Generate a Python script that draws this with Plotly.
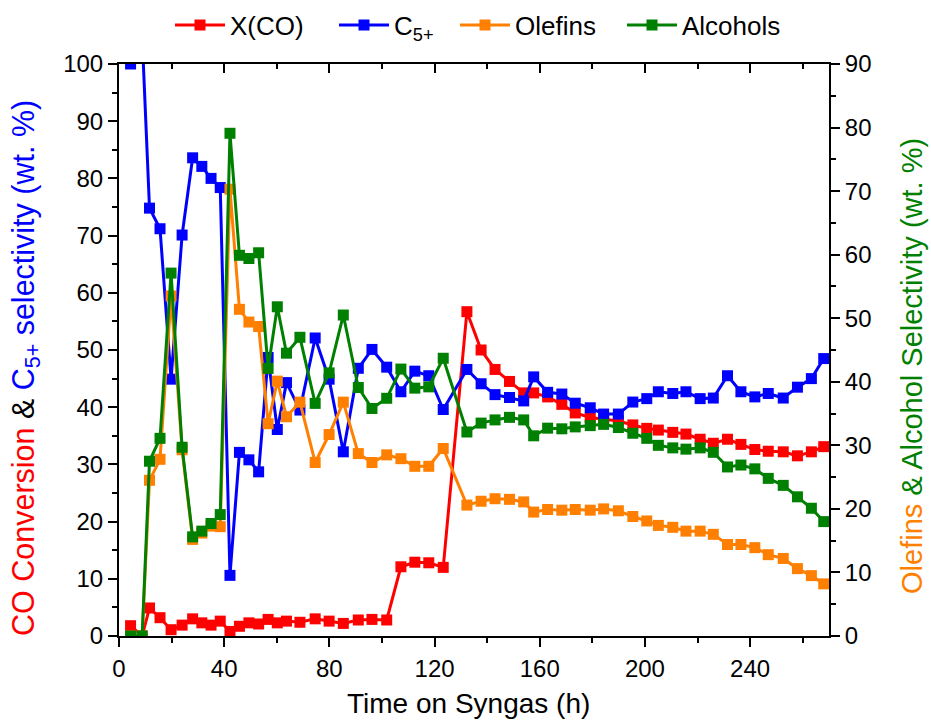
import plotly.graph_objects as go

# ---- data ----
time_h = [4.4, 8.8, 11.6, 15.6, 19.8, 24.0, 28.0, 31.5, 35.0, 38.5, 42.2, 45.8, 49.4, 53.1, 56.7,
          60.2, 63.7, 68.8, 74.6, 79.9, 85.3, 91.0, 96.2, 101.8, 107.2, 112.5, 117.8, 123.3,
          132.3, 137.7, 143.0, 148.5, 153.9, 157.7, 163.0, 168.4, 173.5, 179.2, 184.3, 189.9,
          195.4, 200.7, 205.1, 210.6, 215.6, 221.0, 226.0, 231.4, 236.5, 241.8, 246.9, 252.6,
          258.0, 263.3, 268.0]

x_co = [1.8, 0.0, 4.9, 3.2, 1.1, 1.9, 3.0, 2.3, 1.9, 2.6, 0.8, 1.7, 2.3, 2.1, 2.9,
        2.3, 2.6, 2.4, 3.0, 2.6, 2.2, 2.8, 2.9, 2.8, 12.1, 12.9, 12.8, 12.0,
        56.7, 50.0, 46.6, 44.5, 42.5, 42.5, 41.8, 40.5, 39.0, 38.2, 37.9, 37.6,
        36.9, 36.3, 36.0, 35.6, 35.3, 34.4, 33.7, 34.4, 33.5, 32.6, 32.3, 32.2,
        31.5, 32.2, 33.1]

c5_plus = [100.0, 105.0, 74.8, 71.2, 44.9, 70.1, 83.6, 82.1, 80.0, 78.4, 10.6, 32.1, 30.8, 28.7, 48.7,
           36.1, 44.3, 39.5, 52.1, 44.9, 32.2, 46.8, 50.1, 47.0, 42.7, 46.3, 45.5, 39.6,
           46.6, 44.1, 42.2, 41.7, 41.1, 45.3, 42.6, 42.3, 40.7, 39.9, 38.8, 38.8,
           40.9, 41.5, 42.7, 42.4, 42.7, 41.5, 41.6, 45.5, 42.7, 41.8, 42.4, 41.6,
           43.5, 45.0, 48.5]

olefins = [0.0, 0.0, 24.5, 27.8, 53.5, 29.3, 15.2, 16.2, 17.3, 17.2, 70.3, 51.4, 49.4, 48.7, 33.4,
           40.1, 34.5, 36.8, 27.3, 31.7, 36.8, 28.7, 27.3, 28.5, 27.9, 26.7, 26.7, 29.5,
           20.6, 21.2, 21.6, 21.5, 21.1, 19.5, 19.9, 19.8, 19.9, 19.8, 20.0, 19.7,
           18.8, 18.1, 17.4, 17.1, 16.5, 16.5, 16.0, 14.4, 14.4, 13.9, 12.8, 12.2,
           10.6, 9.5, 8.2]

alcohols = [0.0, 0.0, 27.5, 31.1, 57.1, 29.7, 15.6, 16.5, 17.7, 19.1, 79.1, 59.9, 59.4, 60.3, 42.1,
            51.8, 44.5, 47.0, 36.6, 41.4, 50.5, 39.1, 35.8, 37.4, 42.0, 39.0, 39.2, 43.7,
            32.1, 33.5, 34.0, 34.4, 34.0, 31.5, 32.7, 32.6, 32.9, 33.1, 33.3, 32.8,
            31.9, 31.1, 30.0, 29.6, 29.4, 29.6, 28.9, 26.6, 26.9, 26.3, 24.8, 23.7,
            21.9, 20.1, 18.0]

x_ticks = [0, 40, 80, 120, 160, 200, 240]

RED = "#ff0000"
BLUE = "#0000ff"
ORANGE = "#ff8000"
GREEN = "#008000"
FONT = "Liberation Sans, Arial, sans-serif"

fig = go.Figure()

series = [
    ("X(CO)", x_co, RED, "y", "legend"),
    ("C<sub>5+</sub>", c5_plus, BLUE, "y", "legend2"),
    ("Olefins", olefins, ORANGE, "y2", "legend3"),
    ("Alcohols", alcohols, GREEN, "y2", "legend4"),
]
for name, vals, col, yax, leg in series:
    fig.add_trace(go.Scatter(
        x=time_h, y=vals, name=name, mode="lines+markers",
        line=dict(color=col, width=3),
        marker=dict(symbol="square", size=11, color=col),
        yaxis=yax, xaxis="x", legend=leg,
    ))

# empty trace to carry the top (mirror) axis with inward ticks
fig.add_trace(go.Scatter(x=[], y=[], xaxis="x2", yaxis="y", showlegend=False, hoverinfo="skip"))

axis_common = dict(
    showline=True, linecolor="black", linewidth=2,
    ticks="outside", ticklen=9, tickwidth=2, tickcolor="black",
    showgrid=False, zeroline=False,
    tickfont=dict(family=FONT, size=24, color="black"),
)

fig.update_layout(
    width=931, height=720,
    margin=dict(l=119, r=102, t=64, b=84, autoexpand=False),
    paper_bgcolor="white", plot_bgcolor="white",
    font=dict(family=FONT, size=24, color="black"),
    xaxis=dict(range=[0, 270], tickvals=x_ticks, mirror=True, ticklabelstandoff=1,
               minor=dict(dtick=20, tick0=0, ticklen=5, tickwidth=2, tickcolor="black", ticks="outside"),
               **axis_common),
    xaxis2=dict(range=[0, 270], overlaying="x", side="top", anchor="y",
                tickvals=x_ticks, ticks="inside", ticklen=9, tickwidth=2, tickcolor="black",
                showticklabels=False, showline=False, showgrid=False, zeroline=False,
                minor=dict(dtick=20, tick0=0, ticklen=5, tickwidth=2, tickcolor="black", ticks="inside")),
    yaxis=dict(range=[0, 100], dtick=10,
               minor=dict(dtick=5, ticklen=5, tickwidth=2, tickcolor="black", ticks="outside"),
               **axis_common),
    yaxis2=dict(range=[0, 90], dtick=10, overlaying="y", side="right", anchor="x",
                minor=dict(dtick=5, ticklen=5, tickwidth=2, tickcolor="black", ticks="outside"),
                **axis_common),
    showlegend=True,
)

leg_common = dict(orientation="h", yanchor="middle", y=(636 - 25) / 572, xanchor="left",
                  bgcolor="rgba(0,0,0,0)", borderwidth=0, itemwidth=50,
                  font=dict(family=FONT, size=26, color="black"))
leg_px = [170, 334, 455, 622]
for key, px in zip(["legend", "legend2", "legend3", "legend4"], leg_px):
    fig.update_layout({key: dict(x=(px - 119) / 710, **leg_common)})

fig.add_annotation(
    text='<span style="color:#ff0000">CO Conversion</span> & '
         '<span style="color:#0000ff">C<sub>5+</sub> selectivity (wt. %)</span>',
    xref="paper", yref="paper", x=(25 - 119) / 710, y=(636 - 368) / 572, textangle=-90,
    showarrow=False, xanchor="center", yanchor="middle",
    font=dict(family=FONT, size=30.5, color="black"))
fig.add_annotation(
    text='<span style="color:#ff8000">Olefins</span> '
         '<span style="color:#008000">& Alcohol Selectivity (wt. %)</span>',
    xref="paper", yref="paper", x=(912 - 119) / 710, y=(636 - 366) / 572, textangle=-90,
    showarrow=False, xanchor="center", yanchor="middle",
    font=dict(family=FONT, size=29, color="black"))
fig.add_annotation(
    text="Time on Syngas (h)",
    xref="paper", yref="paper", x=(468.5 - 119) / 710, y=(636 - 703) / 572,
    showarrow=False, xanchor="center", yanchor="middle",
    font=dict(family=FONT, size=28, color="black"))

fig.write_html("out.html")
